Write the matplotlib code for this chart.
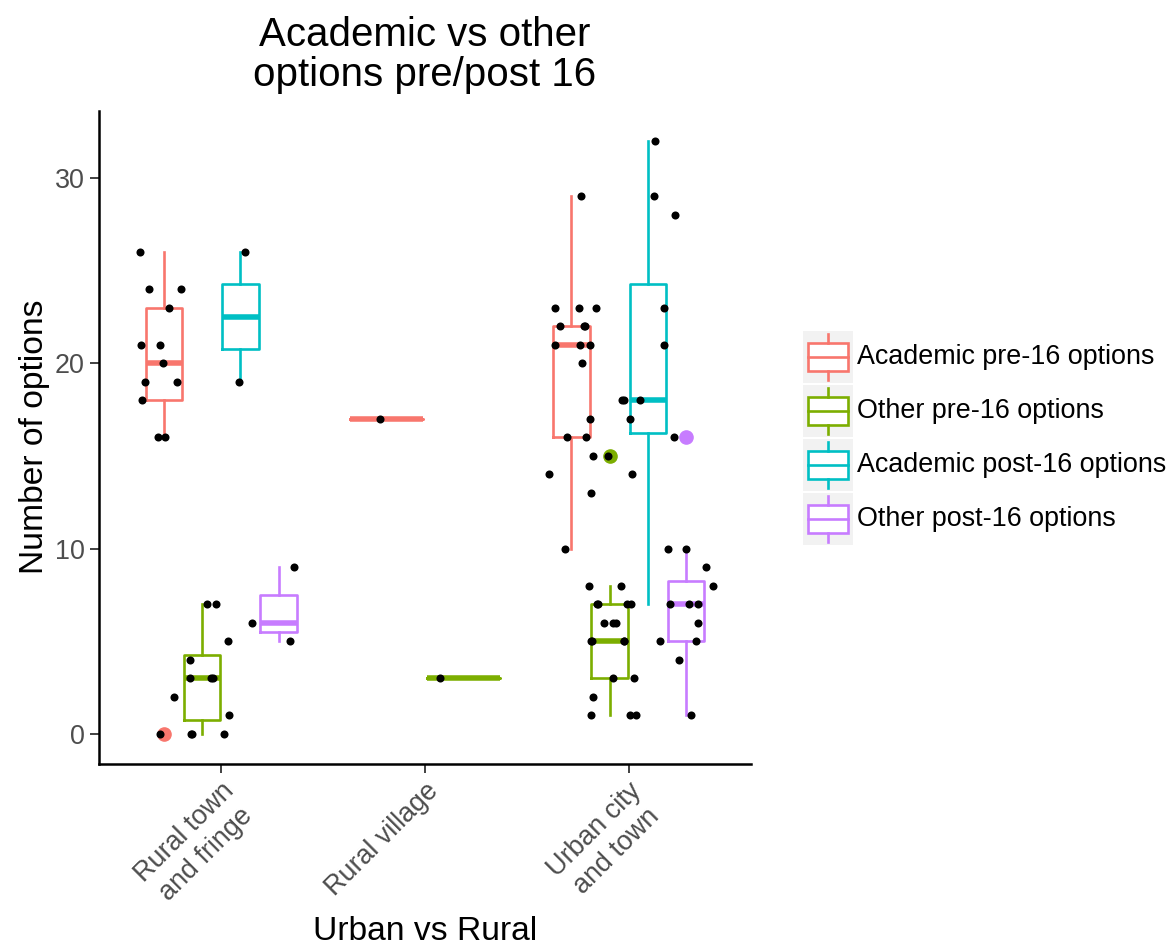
import numpy as np
import matplotlib
matplotlib.use('Agg')
import matplotlib.pyplot as plt
from matplotlib.patches import Rectangle

plt.rcParams['font.family'] = ['Liberation Sans', 'DejaVu Sans']

# data
categories = ['Rural town\nand fringe', 'Rural village', 'Urban city\nand town']
groups = ['Academic pre-16 options', 'Other pre-16 options',
          'Academic post-16 options', 'Other post-16 options']
colors = ['#F8766D', '#7CAE00', '#00BFC4', '#C77CFF']

academic_pre_town = [26, 24, 24, 23, 21, 21, 20, 19, 19, 18, 16, 16, 0]
other_pre_town = [7, 7, 5, 4, 3, 3, 3, 2, 1, 0, 0, 0]
academic_post_town = [26, 19]
other_post_town = [9, 6, 5]

academic_pre_village = [17]
other_pre_village = [3]

academic_pre_urban = [29, 23, 23, 23, 22, 22, 22, 21, 21, 21, 20, 17, 16, 16, 15, 14, 13, 10]
other_pre_urban = [15, 8, 8, 7, 7, 7, 6, 6, 6, 5, 5, 5, 5, 3, 3, 2, 1, 1, 1]
academic_post_urban = [32, 29, 28, 23, 21, 18, 18, 18, 17, 14, 10, 7]
other_post_urban = [16, 10, 9, 8, 7, 7, 7, 6, 5, 5, 4, 1]

data_by_category = [
    [academic_pre_town, other_pre_town, academic_post_town, other_post_town],
    [academic_pre_village, other_pre_village, None, None],
    [academic_pre_urban, other_pre_urban, academic_post_urban, other_post_urban],
]

W, H = 1175, 948
fig = plt.figure(figsize=(W / 100, H / 100), dpi=100)
ax = fig.add_axes([99 / W, 1 - 763.6 / H, (751 - 99) / W, (763.6 - 111) / H])

rng = np.random.default_rng(3)
dodge_width = 0.75
box_lw = 1.9

for n_cat, group_data in enumerate(data_by_category):
    present = [i for i, d in enumerate(group_data) if d is not None]
    n_present = len(present)
    slot = dodge_width / n_present
    for k, i in enumerate(present):
        values = group_data[i]
        pos = n_cat - dodge_width / 2 + slot * (k + 0.5)
        c = colors[i]
        ax.boxplot([values], positions=[pos], widths=slot * 0.96, whis=1.5,
                   showcaps=False, manage_ticks=False,
                   boxprops=dict(color=c, linewidth=box_lw),
                   whiskerprops=dict(color=c, linewidth=box_lw),
                   medianprops=dict(color=c, linewidth=box_lw * 2.1, solid_capstyle='butt'),
                   flierprops=dict(marker='o', markerfacecolor=c, markeredgecolor=c,
                                   markersize=9.5))
        jitter = rng.uniform(-0.14, 0.14, len(values))
        ax.plot(pos + jitter, values, 'o', color='black', markersize=5.8,
                markeredgewidth=0, zorder=5)

ax.set_xlim(-0.6, 2.6)
ax.set_ylim(-1.6, 33.6)
ax.set_yticks([0, 10, 20, 30])
ax.set_xticks(range(len(categories)))
ax.set_xticklabels(categories, rotation=45, ha='right', rotation_mode='anchor',
                   multialignment='center')
ax.tick_params(axis='both', colors='#333333', labelcolor='#4D4D4D', labelsize=19.4,
               length=6.5, width=1.3, pad=4)
for side in ['top', 'right']:
    ax.spines[side].set_visible(False)
for side in ['left', 'bottom']:
    ax.spines[side].set_linewidth(1.8)
    ax.spines[side].set_color('black')

fig.text(35 / W, 1 - 437 / H, 'Number of options', rotation=90, ha='center', va='center',
         fontsize=24.2)
fig.text(425 / W, 1 - 932 / H, 'Urban vs Rural', ha='center', va='center', fontsize=24.2)
fig.text(425 / W, 1 - 55 / H, 'Academic vs other\noptions pre/post 16', ha='center',
         va='center', fontsize=29, linespacing=1.1)

# legend drawn by hand, ggplot style keys
lax = fig.add_axes([0, 0, 1, 1])
lax.set_xlim(0, W)
lax.set_ylim(H, 0)
lax.axis('off')
key_x0, key_w, key_h = 803, 50, 52
key_tops = [331, 385, 439, 493]
for label, c, top in zip(groups, colors, key_tops):
    lax.add_patch(Rectangle((key_x0, top), key_w, key_h, facecolor='#F2F2F2',
                            edgecolor='none'))
    cx = key_x0 + key_w / 2
    bx0, bx1 = key_x0 + 0.1 * key_w, key_x0 + 0.9 * key_w
    by0, by1 = top + 0.24 * key_h, top + 0.76 * key_h
    lax.add_patch(Rectangle((bx0, by0), bx1 - bx0, by1 - by0, facecolor='white',
                            edgecolor=c, linewidth=box_lw))
    lax.plot([bx0, bx1], [top + key_h / 2] * 2, color=c, linewidth=box_lw)
    lax.plot([cx, cx], [top + 0.06 * key_h, by0], color=c, linewidth=box_lw)
    lax.plot([cx, cx], [by1, top + 0.94 * key_h], color=c, linewidth=box_lw)
    lax.text(key_x0 + key_w + 4, top + key_h / 2, label, ha='left', va='center',
             fontsize=19.4, color='black')

fig.savefig('out.png', dpi=100)
